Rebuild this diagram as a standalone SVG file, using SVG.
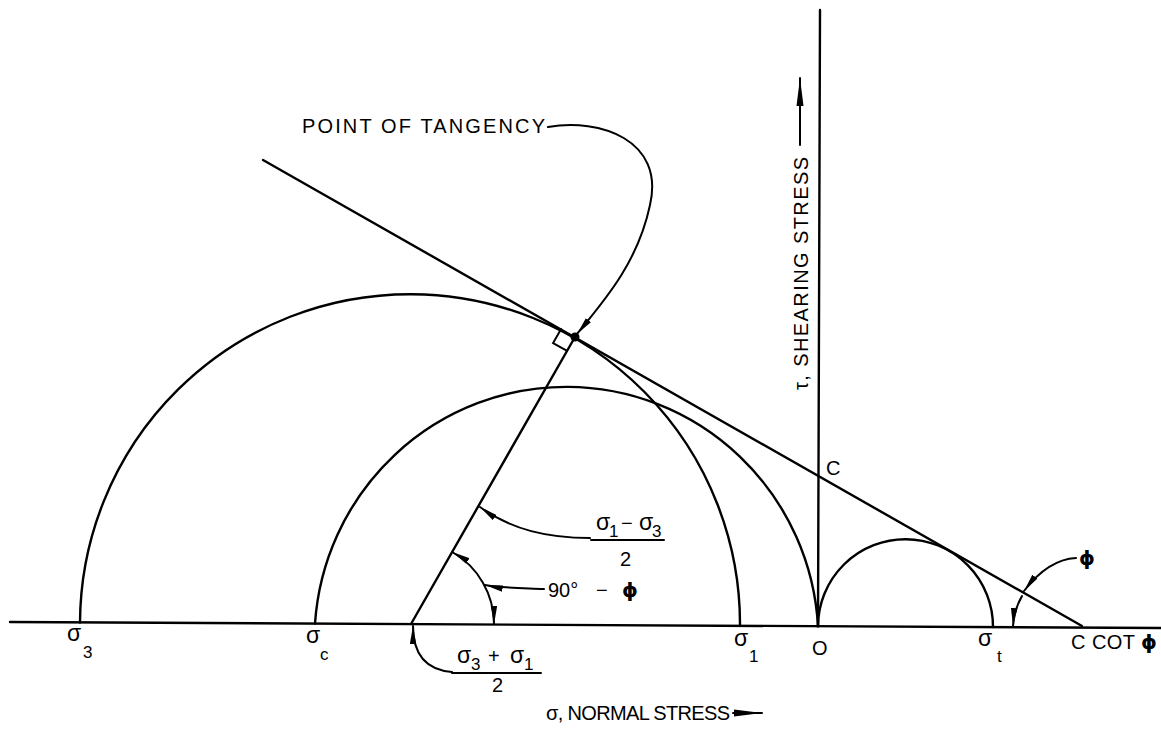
<svg xmlns="http://www.w3.org/2000/svg" width="1161" height="743" viewBox="0 0 1161 743">
<style>
.ln{fill:none;stroke:#000;stroke-width:2.4;stroke-linecap:round}
.th{fill:none;stroke:#000;stroke-width:2;stroke-linecap:round}
.t{font-family:"Liberation Sans",Arial,sans-serif;font-size:20px;fill:#000}
.sg{font-family:"Liberation Sans",Arial,sans-serif;font-size:23px;fill:#000}
.s{font-family:"Liberation Sans",Arial,sans-serif;font-size:17px;fill:#000}
.g{font-family:"DejaVu Sans","Liberation Sans",sans-serif;font-size:20px;font-weight:bold;fill:#000}
</style>
<defs>
<marker id="ah" viewBox="0 0 18 7" refX="18" refY="3.5" markerWidth="18" markerHeight="7" markerUnits="userSpaceOnUse" orient="auto-start-reverse"><path d="M0,0.3 L18,3.5 L0,6.7 z" fill="#000"/></marker>
<marker id="big" viewBox="0 0 28 8" refX="28" refY="4" markerWidth="28" markerHeight="8" markerUnits="userSpaceOnUse" orient="auto"><path d="M0,0.5 L28,4 L0,7.5 z" fill="#000"/></marker>
</defs>

<g id="axes">
<line class="ln" x1="10" y1="622" x2="1161" y2="628"/>
<line class="ln" x1="820" y1="10" x2="818" y2="626"/>
</g>

<g id="circles">
<path id="circle-large" class="ln" d="M80 622.4 A330 330 0 0 1 740 625.8"/>
<path id="circle-medium" class="ln" d="M315 623.6 A252 254 0 0 1 818 626.2"/>
<path id="circle-small" class="ln" d="M818 626.2 A87.5 87.5 0 0 1 993 627.1"/>
</g>

<g id="envelope">
<line class="ln" x1="263" y1="160" x2="1082" y2="626"/>
<line class="ln" x1="411" y1="624" x2="575" y2="337"/>
<path class="th" d="M561.1 329.1 L553.1 343 L567.1 350.9"/>
<circle cx="575" cy="337" r="4.5" fill="#000"/>
</g>

<g id="connectors">
<path class="th" d="M548 127 C600 118 665 140 650 205 C638 262 605 300 577 334" marker-end="url(#ah)"/>
<path class="th" d="M494 624 A83 83 0 0 0 452.2 552" marker-start="url(#ah)" marker-end="url(#ah)"/>
<path class="th" d="M590 538 C548 538 512 530 480 507" marker-end="url(#ah)"/>
<path class="th" d="M544 589 C520 588 500 588 485 585" marker-end="url(#ah)"/>
<path class="th" d="M452 672 C428 670 413 656 413 626" marker-end="url(#ah)"/>
<path class="th" d="M1076 558 C1058 559 1040 570 1024 591" marker-end="url(#ah)"/>
<path class="th" d="M1022 596 A69 69 0 0 0 1013 626" marker-end="url(#ah)"/>
<line class="th" x1="800" y1="145" x2="800" y2="78" marker-end="url(#big)"/>
<line class="th" x1="733" y1="713" x2="762" y2="713" marker-end="url(#big)"/>
</g>

<g id="labels">
<text class="t" x="302" y="133" textLength="243" lengthAdjust="spacing">POINT OF TANGENCY</text>
<text class="t" transform="translate(808 390) rotate(-90)" x="0" y="0" textLength="233" lengthAdjust="spacing">τ, SHEARING STRESS</text>
<text class="t" x="826" y="475">C</text>
<g id="frac-diff">
<text class="sg" x="596" y="530">σ</text><text class="s" x="609" y="537">1</text>
<text class="t" x="621" y="530">−</text>
<text class="sg" x="639" y="530">σ</text><text class="s" x="652" y="537">3</text>
<line class="th" x1="591" y1="540" x2="664" y2="540"/>
<text class="t" x="620" y="566">2</text>
</g>
<g id="angle-label">
<text class="t" x="548" y="597">90°</text>
<text class="t" x="596" y="597">−</text>
<text class="g" x="622" y="597">ϕ</text>
</g>
<g id="frac-sum">
<text class="sg" x="457" y="663">σ</text><text class="s" x="471" y="670">3</text>
<text class="t" x="488" y="663">+</text>
<text class="sg" x="510" y="663">σ</text><text class="s" x="524" y="670">1</text>
<line class="th" x1="452" y1="673" x2="541" y2="673"/>
<text class="t" x="492" y="692">2</text>
</g>
<text class="g" x="1079" y="565">ϕ</text>
<text class="sg" x="67" y="641">σ</text><text class="s" x="83" y="658">3</text>
<text class="sg" x="306" y="643">σ</text><text class="s" x="320" y="660">c</text>
<text class="sg" x="734" y="646">σ</text><text class="s" x="749" y="662">1</text>
<text class="t" x="812" y="655">O</text>
<text class="sg" x="978" y="646">σ</text><text class="s" x="997" y="662">t</text>
<text class="t" x="1071" y="649" textLength="86" lengthAdjust="spacing">C COT <tspan class="g">ϕ</tspan></text>
<text class="t" x="546" y="720" textLength="184" lengthAdjust="spacing">σ, NORMAL STRESS</text>
</g>
</svg>
